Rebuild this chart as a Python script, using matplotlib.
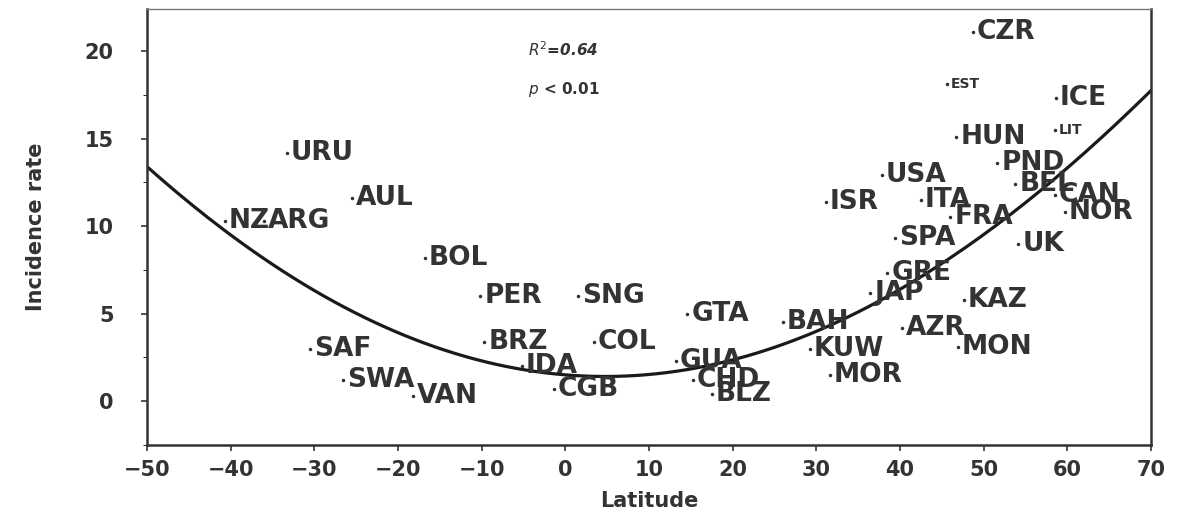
import numpy as np
import matplotlib
matplotlib.use("Agg")
import matplotlib.pyplot as plt

# country codes, latitude, incidence rate
countries = ["CZR", "EST", "ICE", "HUN", "LIT", "PND", "USA", "BEL", "ISR", "ITA",
             "CAN", "FRA", "NOR", "SPA", "UK", "GRE", "JAP", "KAZ", "BAH", "AZR",
             "KUW", "MON", "MOR", "GTA", "COL", "BRZ", "PER", "SNG", "IDA", "GUA",
             "CHD", "CGB", "BLZ", "VAN", "SWA", "SAF", "BOL", "NZ", "ARG", "URU", "AUL"]
latitude = [48.7, 45.6, 58.6, 46.7, 58.5, 51.6, 37.8, 53.8, 31.1, 42.5,
            58.5, 46.0, 59.7, 39.4, 54.1, 38.5, 36.4, 47.6, 26.0, 40.2,
            29.2, 46.9, 31.6, 14.6, 3.4, -9.7, -10.2, 1.5, -5.2, 13.2,
            15.2, -1.4, 17.5, -18.2, -26.6, -30.5, -16.8, -40.7, -36.0, -33.3, -25.5]
incidence = [21.1, 18.1, 17.3, 15.1, 15.5, 13.6, 12.9, 12.4, 11.4, 11.5,
             11.8, 10.5, 10.8, 9.3, 9.0, 7.3, 6.2, 5.8, 4.5, 4.2,
             3.0, 3.1, 1.5, 5.0, 3.4, 3.4, 6.0, 6.0, 2.0, 2.3,
             1.2, 0.7, 0.4, 0.3, 1.2, 3.0, 8.2, 10.3, 10.3, 14.2, 11.6]
small_labels = ["EST", "LIT"]

# points
trend_lat = [-50, -38.9, -31.7, -23, -15, -4.2, 3.8, 9.7, 15.7, 20, 25.6, 28, 39.1, 49.2, 57, 70]
trend_rate = [13.4, 9.2, 6.7, 4.5, 2.9, 1.9, 1.66, 1.6, 1.66, 2.3, 3.1, 3.5, 6.3, 9.2, 12.2, 17.7]

fig = plt.figure(figsize=(11.77, 5.15), dpi=100)
ax = fig.add_axes([0.1249, 0.136, 0.853, 0.8465])

col = "#333333"
ax.plot(latitude, incidence, "o", ms=1.5, color=col)
for name, x, y in zip(countries, latitude, incidence):
    small = name in small_labels
    ax.annotate(name, (x, y), xytext=(3, 0), textcoords="offset points",
                ha="left", va="center", color=col, fontweight="bold",
                fontsize=10 if small else 19, family="DejaVu Sans")

coef = np.polyfit(trend_lat, trend_rate, 4)
xs = np.linspace(-50, 70, 200)
ax.plot(xs, np.polyval(coef, xs), color="#1a1a1a", lw=2.3)

ax.text(-4.5, 20.1, r"$R^2$=0.64", fontsize=11, fontweight="bold", color=col,
        va="center", style="italic")
ax.text(-4.5, 17.8, r"$p$ < 0.01", fontsize=11, fontweight="bold", color=col,
        va="center")

ax.set_xlim(-50, 70)
ax.set_ylim(-2.5, 22.4)
ax.set_xticks(range(-50, 71, 10))
ax.set_yticks([0, 5, 10, 15, 20])
ax.set_yticks(np.arange(-2.5, 22.5, 2.5), minor=True)
ax.tick_params(labelsize=15, colors=col, length=4, width=1.2)
ax.tick_params(axis="y", pad=20)
ax.tick_params(axis="x", pad=7)
ax.tick_params(which="minor", length=3)
for lab in ax.get_xticklabels() + ax.get_yticklabels():
    lab.set_fontweight("bold")
for s in ["left", "bottom", "right"]:
    ax.spines[s].set_linewidth(1.8)
    ax.spines[s].set_color(col)
ax.spines["top"].set_color("#777777")
ax.spines["top"].set_linewidth(1.0)

ax.set_xlabel("Latitude", fontsize=15, fontweight="bold", color=col, labelpad=8)
ax.set_ylabel("Incidence rate", fontsize=15, fontweight="bold", color=col, labelpad=28)

fig.savefig("out.png", dpi=100)
